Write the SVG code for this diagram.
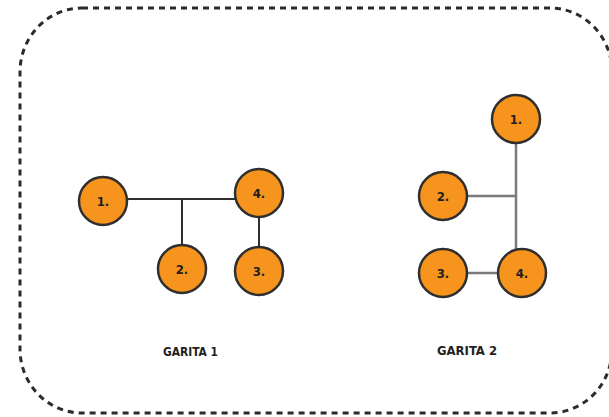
<svg xmlns="http://www.w3.org/2000/svg" width="609" height="417" viewBox="0 0 609 417">
<style>
.frame{fill:none;stroke:#2b2b2b;stroke-width:3;stroke-dasharray:6 5}
.node circle{fill:#F7941D;stroke:#2f2f2f;stroke-width:2.5}
.node text{font-family:"DejaVu Sans Condensed","Liberation Sans",sans-serif;font-stretch:condensed;font-weight:bold;font-size:13px;fill:#231f20;text-anchor:middle}
.c1{stroke:#2f2f2f;stroke-width:2;fill:none}
.c2{stroke:#7a7a7a;stroke-width:2.5;fill:none}
.lbl{font-family:"DejaVu Sans Condensed","Liberation Sans",sans-serif;font-stretch:condensed;font-weight:bold;font-size:12px;fill:#231f20}
</style>
<rect class="frame" x="20" y="8" width="592" height="405" rx="62" ry="64"/>
<g id="connectors">
<line class="c1" x1="103" y1="199" x2="259" y2="199"/>
<line class="c1" x1="182" y1="199" x2="182" y2="269"/>
<line class="c1" x1="259" y1="193" x2="259" y2="272"/>
<line class="c2" x1="516" y1="120" x2="516" y2="273"/>
<line class="c2" x1="443" y1="196" x2="516" y2="196"/>
<line class="c2" x1="443" y1="273" x2="522" y2="273"/>
</g>
<g id="g1n1" class="node"><circle cx="103" cy="201" r="24"/><text x="103" y="206">1.</text></g>
<g id="g1n4" class="node"><circle cx="259" cy="193" r="24"/><text x="259" y="198">4.</text></g>
<g id="g1n2" class="node"><circle cx="182" cy="269" r="24"/><text x="182" y="274">2.</text></g>
<g id="g1n3" class="node"><circle cx="259" cy="271" r="24"/><text x="259" y="276">3.</text></g>
<g id="g2n1" class="node"><circle cx="516" cy="119" r="24"/><text x="516" y="124">1.</text></g>
<g id="g2n2" class="node"><circle cx="443" cy="196" r="24"/><text x="443" y="201">2.</text></g>
<g id="g2n3" class="node"><circle cx="443" cy="273" r="24"/><text x="443" y="278">3.</text></g>
<g id="g2n4" class="node"><circle cx="522" cy="273" r="24"/><text x="522" y="278">4.</text></g>
<text class="lbl" x="163" y="356" textLength="55" lengthAdjust="spacingAndGlyphs">GARITA 1</text>
<text class="lbl" x="437" y="355" textLength="60" lengthAdjust="spacingAndGlyphs">GARITA 2</text>
</svg>
